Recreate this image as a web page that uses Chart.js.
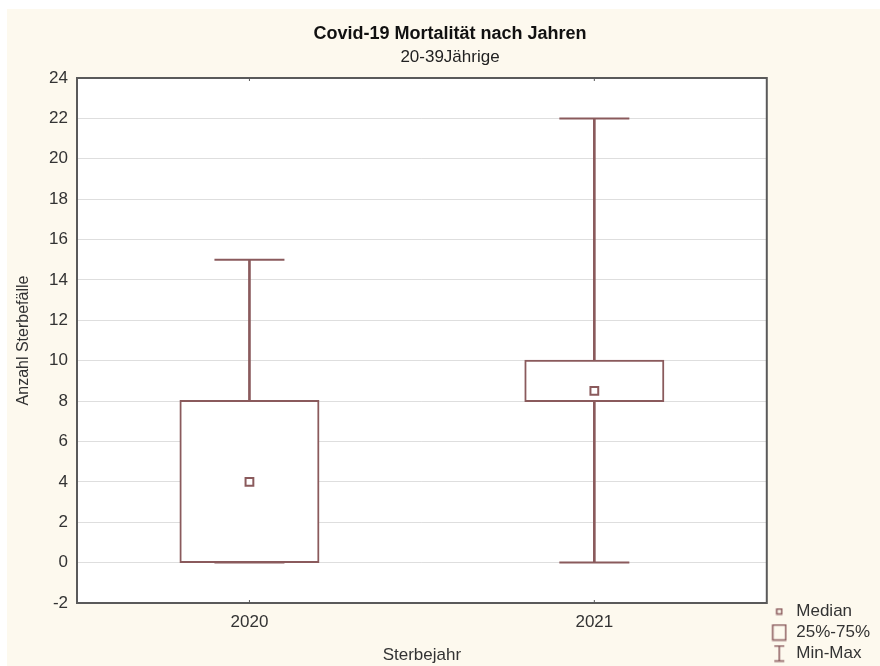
<!DOCTYPE html>
<html lang="de">
<head>
<meta charset="utf-8">
<title>Covid-19 Mortalität nach Jahren</title>
<script src="https://cdn.jsdelivr.net/npm/chart.js@4.4.1/dist/chart.umd.min.js"></script>
<style>
  html, body { margin: 0; padding: 0; background: #ffffff; }
  #wrap { position: absolute; left: 7px; top: 9px; width: 873px; height: 657px; background: #fdf9ee; }
  canvas { display: block; }
</style>
</head>
<body>
<div id="wrap"><canvas id="chart"></canvas></div>
<script>
const years   = ['2020', '2021'];
const minVals = [0, 0];
const q1Vals  = [0, 8];
const medVals = [4, 8.5];
const q3Vals  = [8, 10];
const maxVals = [15, 22];
const yTicks  = [-2, 0, 2, 4, 6, 8, 10, 12, 14, 16, 18, 20, 22, 24];

const BOX = '#8a5a5c';
const TXT = '#333333';
const FONT = "'Liberation Sans', Arial, sans-serif";

// little canvases used as legend symbols
function makeIcon(w, h, draw) {
  const c = document.createElement('canvas');
  c.width = w; c.height = h;
  const g = c.getContext('2d');
  g.strokeStyle = BOX; g.lineWidth = 1.5;
  draw(g);
  return c;
}
const iconMedian = makeIcon(8, 8, g => { g.strokeRect(1.5, 1.5, 5, 5); });
const iconBox = makeIcon(16, 18, g => { g.strokeRect(1.5, 1.5, 13, 15); });
const iconRange = makeIcon(16, 18, g => {
  g.beginPath();
  g.moveTo(3, 1.5); g.lineTo(13, 1.5);
  g.moveTo(8, 1.5); g.lineTo(8, 16.5);
  g.moveTo(3, 16.5); g.lineTo(13, 16.5);
  g.stroke();
});

// white plot background + dark frame
const plotFrame = {
  id: 'plotFrame',
  beforeDraw(chart) {
    const { ctx, chartArea: a } = chart;
    ctx.save();
    ctx.fillStyle = '#ffffff';
    ctx.fillRect(a.left, a.top, a.right - a.left, a.bottom - a.top);
    ctx.restore();
  },
  afterDraw(chart) {
    const { ctx, chartArea: a } = chart;
    const xs = chart.scales.x;
    ctx.save();
    ctx.strokeStyle = '#5a5a5a';
    ctx.lineWidth = 2;
    ctx.strokeRect(a.left, a.top, a.right - a.left, a.bottom - a.top);
    ctx.lineWidth = 1;
    years.forEach((_, i) => {
      const px = xs.getPixelForValue(i);
      ctx.beginPath();
      ctx.moveTo(px, a.top); ctx.lineTo(px, a.top + 3);
      ctx.moveTo(px, a.bottom); ctx.lineTo(px, a.bottom - 3);
      ctx.stroke();
    });
    ctx.restore();
  }
};

const ctx = document.getElementById('chart');
ctx.width = 873; ctx.height = 657;

new Chart(ctx, {
  type: 'bar',
  data: {
    labels: years,
    datasets: [
      { label: 'Min-Max', type: 'bar', data: years.map((_, i) => [minVals[i], maxVals[i]]),
        backgroundColor: BOX, borderWidth: 0, barThickness: 2, grouped: false, order: 4 },
      { label: '25%-75%', type: 'bar', data: years.map((_, i) => [q1Vals[i], q3Vals[i]]),
        backgroundColor: '#ffffff', borderColor: BOX, borderWidth: 2, borderSkipped: false,
        inflateAmount: 1, barPercentage: 0.4, categoryPercentage: 1, grouped: false, order: 3 },
      { label: 'max', type: 'line', data: maxVals, showLine: false, pointStyle: 'line',
        pointRadius: 35, pointHoverRadius: 35, borderColor: BOX, borderWidth: 2, order: 2 },
      { label: 'min', type: 'line', data: minVals, showLine: false, pointStyle: 'line',
        pointRadius: 35, pointHoverRadius: 35, borderColor: BOX, borderWidth: 2, order: 2 },
      { label: 'Median', type: 'line', data: medVals, showLine: false, pointStyle: 'rect',
        pointRadius: 5.5, pointHoverRadius: 5.5, backgroundColor: '#ffffff', borderColor: BOX,
        borderWidth: 2, order: 1 },
    ]
  },
  options: {
    responsive: false, animation: false,
    layout: { padding: { left: 13, right: 0, top: 0, bottom: 0 } },
    plugins: {
      title: { display: true, text: 'Covid-19 Mortalität nach Jahren', color: '#111',
        font: { family: FONT, size: 18, weight: 'bold' }, padding: { top: 14, bottom: 3 } },
      subtitle: { display: true, text: '20-39Jährige', color: '#222',
        font: { family: FONT, size: 17 }, padding: { top: 0, bottom: 10 } },
      legend: {
        position: 'right', align: 'end', maxWidth: 114,
        onClick: null,
        labels: {
          color: TXT, font: { family: FONT, size: 17 }, padding: 4, usePointStyle: true,
          generateLabels: () => [
            { text: 'Median', pointStyle: iconMedian, fontColor: TXT, lineWidth: 0 },
            { text: '25%-75%', pointStyle: iconBox, fontColor: TXT, lineWidth: 0 },
            { text: 'Min-Max', pointStyle: iconRange, fontColor: TXT, lineWidth: 0 },
          ]
        }
      },
      tooltip: { enabled: false }
    },
    scales: {
      x: {
        offset: true,
        grid: { display: false, drawTicks: false },
        border: { display: false },
        ticks: { color: TXT, font: { family: FONT, size: 17 }, padding: 9 },
        title: { display: true, text: 'Sterbejahr', color: TXT, font: { family: FONT, size: 17 }, padding: 0 },
        afterFit: s => { s.height = 63; }
      },
      y: {
        min: -2, max: 24,
        afterBuildTicks: s => { s.ticks = yTicks.map(v => ({ value: v })); },
        grid: { color: '#dedede', lineWidth: 1, drawTicks: false },
        border: { display: false },
        ticks: { color: TXT, font: { family: FONT, size: 17 }, padding: 9 },
        title: { display: true, text: 'Anzahl Sterbefälle', color: TXT,
          font: { family: FONT, size: 16 }, padding: { top: -6, bottom: 0 } },
        afterFit: s => { s.width = 57; }
      }
    }
  },
  plugins: [plotFrame]
});
</script>
</body>
</html>
